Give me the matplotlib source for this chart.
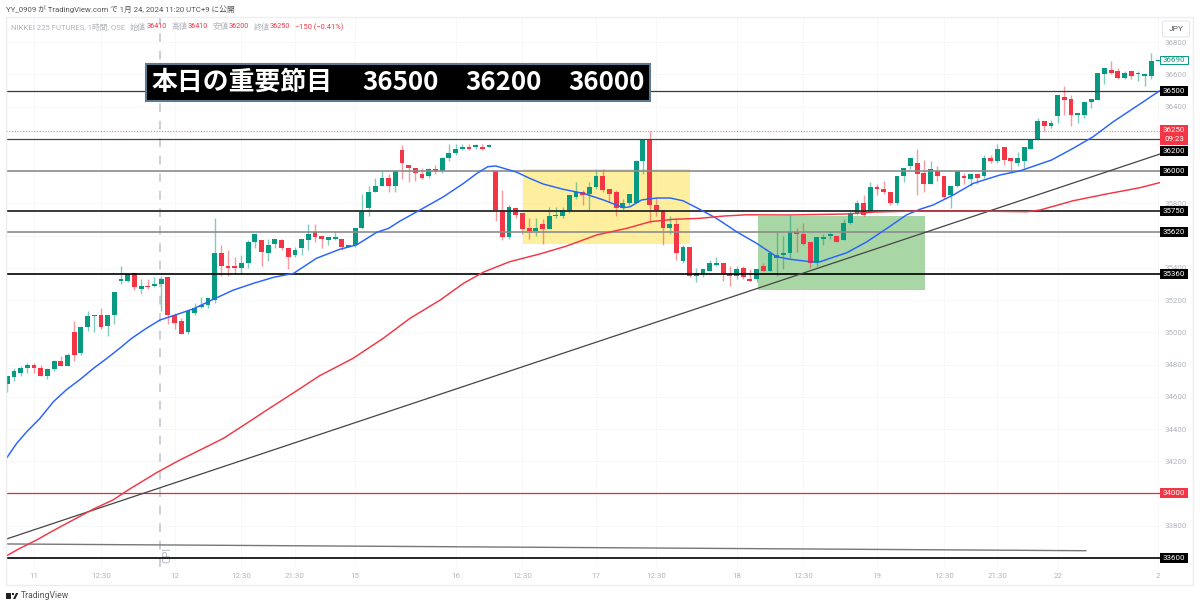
import numpy as np
import matplotlib
matplotlib.use("Agg")
import matplotlib.pyplot as plt
from matplotlib.patches import Rectangle, FancyBboxPatch, Polygon
from matplotlib.transforms import blended_transform_factory

plt.rcParams['font.family'] = ['Noto Sans CJK JP', 'DejaVu Sans']

# candles, one hour each
opens = [34680,34720,34750,34780,34800,34780,34730,34770,34820,34790,
         35000,34870,35030,35100,35110,35040,35110,35320,35320,35370,
         35270,35290,35290,35300,35340,35110,35070,35000,35120,35160,
         35170,35200,35490,35410,35410,35400,35430,35560,35570,35490,
         35550,35570,35520,35480,35520,35570,35620,35600,35570,35580,
         35580,35530,35540,35650,35770,35870,35910,35960,35910,36130,
         36040,36020,35980,35970,36010,36000,36080,36110,36140,36150,
         36150,36150,36150,36000,35760,35590,35770,35740,35650,35630,
         35670,35640,35720,35720,35750,35840,35870,35860,35900,35970,
         35890,35870,35770,35800,35800,36060,36190,35790,35760,35650,
         35670,35440,35530,35350,35360,35380,35420,35430,35360,35350,
         35400,35330,35330,35410,35380,35460,35480,35490,35620,35610,
         35560,35430,35580,35600,35600,35570,35680,35740,35800,35750,
         35900,35890,35870,35800,35970,36030,36050,35990,35920,36000,
         35970,35850,35910,35970,35950,35980,35970,36080,36060,36150,
         36080,36050,36060,36140,36190,36310,36280,36340,36460,36450,
         36350,36350,36430,36440,36600,36630,36620,36580,36620,36600,
         36590,36590,36680]
closes = [34730,34760,34780,34800,34780,34730,34770,34820,34790,34860,
          34860,35030,35100,35110,35030,35110,35250,35330,35360,35280,
          35290,35280,35300,35330,35110,35060,34990,35130,35150,35170,
          35210,35490,35410,35400,35400,35430,35560,35610,35500,35540,
          35580,35520,35470,35510,35580,35610,35590,35580,35590,35590,
          35530,35540,35650,35750,35870,35910,35960,35910,36000,36050,
          36020,35990,35960,36010,36000,36080,36110,36140,36150,36140,
          36160,36140,36160,35760,35590,35780,35730,35640,35630,35650,
          35640,35720,35730,35760,35850,35870,35850,35900,35970,35880,
          35860,35770,35800,35860,36060,36190,35790,35750,35650,35670,
          35490,35530,35350,35370,35390,35430,35430,35360,35350,35390,
          35340,35320,35390,35380,35490,35480,35490,35620,35610,35550,
          35430,35590,35590,35610,35560,35680,35740,35800,35730,35900,
          35890,35870,35800,35970,36020,36080,35980,35920,36010,35970,
          35840,35910,36000,35960,35980,35960,36080,36060,36140,36070,
          36060,36080,36150,36190,36310,36280,36300,36470,36440,36350,
          36360,36430,36450,36610,36640,36610,36580,36610,36590,36610,
          36600,36680,36690]
highs = [34730,34780,34790,34810,34810,34800,34780,34830,34850,34870,
         35070,35040,35130,35110,35150,35110,35250,35410,35370,35370,
         35330,35330,35340,35350,35340,35120,35090,35130,35180,35220,
         35210,35710,35540,35510,35470,35480,35570,35610,35570,35580,
         35580,35580,35520,35530,35580,35670,35670,35600,35590,35630,
         35580,35540,35650,35860,35910,35960,36000,35980,36000,36160,
         36040,36020,36020,36020,36040,36090,36170,36170,36170,36170,
         36170,36170,36170,36000,35880,35790,35770,35740,35710,35710,
         35700,35780,35780,35780,35850,35930,35880,35930,36010,36010,
         35890,35880,35830,35860,36070,36200,36250,35840,35760,35720,
         35700,35540,35530,35400,35390,35450,35470,35430,35410,35410,
         35410,35390,35390,35430,35490,35620,35600,35730,35650,35680,
         35560,35590,35610,35630,35600,35700,35750,35820,35850,35930,
         35920,35940,35870,35970,36020,36080,36140,36070,36060,36030,
         35970,35910,36000,35990,35990,35980,36100,36100,36170,36150,
         36080,36120,36150,36200,36330,36310,36320,36470,36530,36470,
         36360,36430,36450,36610,36640,36680,36640,36620,36620,36620,
         36610,36730,36690]
lows = [34630,34700,34730,34750,34750,34730,34710,34760,34790,34790,
        34820,34860,35010,35000,35020,34980,35050,35300,35310,35260,
        35240,35270,35280,35130,35050,35020,34990,34990,35110,35150,
        35150,35180,35350,35350,35360,35360,35400,35520,35410,35440,
        35520,35510,35390,35470,35480,35510,35560,35520,35540,35570,
        35510,35530,35530,35640,35720,35870,35910,35870,35870,35950,
        35930,35940,35950,35960,35980,35990,36060,36100,36130,36130,
        36140,36130,36150,35690,35570,35580,35710,35610,35580,35600,
        35550,35640,35710,35710,35740,35830,35790,35760,35890,35870,
        35810,35720,35760,35790,35800,35980,35680,35720,35540,35610,
        35450,35430,35340,35310,35340,35380,35410,35320,35290,35330,
        35330,35320,35310,35380,35380,35350,35390,35460,35500,35540,
        35400,35410,35540,35580,35560,35570,35670,35730,35720,35740,
        35850,35860,35790,35790,35930,36010,35850,35870,35920,35940,
        35830,35770,35900,35920,35910,35920,35960,36050,36050,36040,
        35990,36030,36020,36140,36190,36250,36270,36300,36350,36280,
        36300,36330,36390,36440,36540,36600,36570,36570,36570,36560,
        36530,36570,36680]

# moving averages, read at a subset of candle positions
blue_x = [-0.2,1.4,2.9,4.9,6.9,8.9,10.9,12.9,14.9,16.8,18.6,20.8,22.8,24.8,27.8,30.8,33.8,36.8,39.8,42.8,
          46.2,49.7,52.2,55.2,57,58.7,61.7,65.2,68.2,70.2,71.8,73,76.1,78.1,80.1,83.1,86.1,89.1,92.1,93.1,
          94.8,97.1,99.1,101,103.5,106,109,112,115,117,120,121.5,125.5,128.5,131.5,134.4,136.4,138.4,141.4,144.4,
          148.4,151.4,156.1,159.3,162.3,165.3,169.8,172.2]
blue_y = [34214,34311,34383,34467,34570,34646,34708,34777,34839,34901,34963,35025,35076,35103,35145,35205,35262,35304,35341,35366,
          35459,35515,35542,35620,35645,35690,35759,35841,35924,35986,36027,36032,35994,35955,35920,35887,35862,35821,35773,35779,
          35821,35833,35833,35816,35763,35707,35624,35552,35469,35453,35438,35438,35494,35562,35645,35728,35763,35790,35852,35924,
          35976,36002,36069,36141,36213,36306,36430,36497]
red_x = [-0.2,1.9,4.4,6.4,8.9,12.9,15.8,18.3,22.3,25.8,29.8,32.3,35.8,38.8,42.8,46.7,51.7,56.2,60.2,64.7,
         68.2,71.2,75.1,79.6,83.6,88.1,92.6,96.1,99.6,103.5,107,110.5,117,125.5,129.5,135.4,145.4,152.4,154.4,159.3,
         164.3,169.3,172.2]
red_y = [33612,33660,33712,33759,33815,33904,33960,34028,34129,34208,34290,34342,34436,34518,34625,34731,34839,34963,35087,35200,
         35304,35374,35438,35486,35535,35604,35645,35686,35701,35707,35721,35729,35728,35734,35746,35752,35752,35748,35759,35816,
         35858,35897,35928]

# horizontal levels: price, colour, width
levels = [36500, 36200, 36000, 35750, 35620, 35360, 34000, 33600]
level_colors = ['#3a3a3a', '#444444', '#8c8c8c', '#2a2a2a', '#8c8c8c', '#000000', '#e8273c', '#000000']
level_widths = [0.9, 0.9, 1.2, 1.3, 1.2, 1.2, 0.9, 1.2]

# ticks 34000, 35600, 36000 and 36200 sit behind the level boxes, so only the grid shows
yticks = [33800,34000,34200,34400,34600,34800,35000,35200,35400,35600,35800,36000,36200,36400,36600,36800]
hidden_yticks = [34000, 35600, 36000, 36200]
xtick_pos = [4,14,25,35,43,52,67,77,88,97,109,119,130,140,148,157,172]
xtick_labels = ['11','12:30','12','12:30','21:30','15','16','12:30','17','12:30','18','12:30','19','12:30','21:30','22','2']

GREEN = '#089981'
RED = '#f23645'
GRAY = '#b2b5be'
W, H = 1200, 608
LATIN_CJK = ['Roboto', 'Noto Sans CJK JP']
AXIS_SIZE = 5.7

fig = plt.figure(figsize=(12, 6.08), dpi=100, facecolor='white')
# pane in pixels: x 5.7-1160, y 17-567
ax = fig.add_axes([5.7/W, 1-567/H, (1160-5.7)/W, (567-17)/H])
ax.set_xlim(-0.24, 172.3)
ax.set_ylim(33544, 36956)
for s in ax.spines.values():
    s.set_visible(False)
ax.yaxis.tick_right()
ax.set_yticks(yticks)
ax.set_yticklabels(['' if v in hidden_yticks else str(v) for v in yticks], fontsize=AXIS_SIZE, color=GRAY, family='Roboto')
ax.set_xticks(xtick_pos)
ax.set_xticklabels(xtick_labels, fontsize=AXIS_SIZE, color=GRAY, family='Roboto')
ax.tick_params(axis='both', length=0)
ax.tick_params(axis='y', pad=3)
ax.tick_params(axis='x', pad=4)
ax.grid(True, color='#f6f7f9', lw=0.7)
ax.set_axisbelow(True)

# frame round the whole chart
fig.add_artist(Rectangle((5.7/W, 1-585/H), (1193-5.7)/W, (585-17)/H, fc='none', ec='#eceef2', lw=1,
                         transform=fig.transFigure))

# zones
ax.add_patch(Rectangle((77.1, 35550), 25, 460, fc='#fde978', alpha=0.72, ec='none', zorder=1))
ax.add_patch(Rectangle((112.2, 35262), 24.9, 460, fc='#a8d6a4', ec='none', zorder=1))

# CPI event line
ax.axvline(22.85, color='#cdcfd6', lw=1.4, ls=(0, (4.5, 4.5)), zorder=1.5)
ax.text(24.0, 33620, 'CPI', rotation=90, fontsize=7.5, color=GRAY, family='Roboto', ha='center', va='center')

# candles
x = np.arange(len(opens))
o, h, l, c = map(np.array, (opens, highs, lows, closes))
up = c >= o
cols = np.where(up, GREEN, RED)
ax.vlines(x, l, h, colors=cols, lw=1.0, alpha=0.5, zorder=2)
ax.bar(x, np.abs(c-o), bottom=np.minimum(o, c), width=0.72, color=cols, lw=0, zorder=3)

# levels and trend lines
for p, col, lw in zip(levels, level_colors, level_widths):
    ax.axhline(p, color=col, lw=lw, zorder=4)
ax.axhline(36250, color=RED, lw=0.8, ls=(0, (1, 1.5)), alpha=0.7, zorder=1.5)
ax.plot([-0.24, 172.3], [33716, 36106], color='#444444', lw=0.9, zorder=4)
ax.plot([-0.24, 161.2], [33687, 33645], color='#777777', lw=1.0, zorder=4)

# moving averages
ax.plot(blue_x, blue_y, color='#2962ff', lw=1.05, zorder=5, solid_joinstyle='round')
ax.plot(red_x, red_y, color='#f23645', lw=1.05, zorder=5, solid_joinstyle='round')

# price scale boxes
trans = blended_transform_factory(ax.transAxes, ax.transData)
box_w = 28/(1160-5.7)
def price_box(p, fc, txt='#ffffff', ec='none', height=62, label=None):
    ax.add_patch(Rectangle((1.0, p-height/2), box_w, height, transform=trans, fc=fc, ec=ec, lw=0.7,
                           clip_on=False, zorder=6))
    ax.text(1.0+box_w/2, p, label or str(p), transform=trans, color=txt, fontsize=AXIS_SIZE, family='Roboto',
            ha='center', va='center', clip_on=False, zorder=7)

for p in [36500, 36000, 35750, 35620, 35360, 33600]:
    price_box(p, '#000000')
# 36200 label is pushed below the live price box
price_box(36125, '#000000', label='36200')
price_box(34000, RED)
price_box(36690, '#ffffff', txt=GREEN, ec=GREEN, height=54)
ax.add_patch(Rectangle((1.0, 36162), box_w, 124, transform=trans, fc=RED, ec='none', clip_on=False, zorder=6))
ax.text(1.0+box_w/2, 36255, '36250', transform=trans, color='white', fontsize=AXIS_SIZE, family='Roboto',
        ha='center', va='center', zorder=7)
ax.text(1.0+box_w/2, 36197, '09:23', transform=trans, color='white', fontsize=AXIS_SIZE, family='Roboto',
        ha='center', va='center', zorder=7)

def px_text(px, py, s, **kw):
    kw.setdefault('va', 'center')
    fig.text(px/W, 1-py/H, s, **kw)

# title box
fig.add_artist(Rectangle((146/W, 1-101/H), 504/W, 37/H, fc='#000000', ec='#5f7a90', lw=1.5, zorder=8,
                         transform=fig.transFigure))
px_text(151.5, 82.5, '本日の重要節目', color='white', fontsize=18.6, fontweight='bold', zorder=9)
for px, s in zip([362.5, 465.5, 568], ['36500', '36200', '36000']):
    px_text(px, 83, s, color='white', fontsize=18.6, fontweight='bold', zorder=9)

# header texts
px_text(5.5, 9.5, 'YY_0909 が TradingView.com で 1月 24, 2024 11:20 UTC+9 に公開', color='#555555', fontsize=5.6, family=LATIN_CJK)
px_text(10.7, 27, 'NIKKEI 225 FUTURES, 1時間, OSE', color=GRAY, fontsize=5.6, family=LATIN_CJK)
for px, s in zip([130, 171.7, 212.7, 253.7], ['始値', '高値', '安値', '終値']):
    px_text(px, 27, s, color=GRAY, fontsize=5.8)
for px, s in zip([146.7, 187.3, 228.3, 269.3], ['36410', '36410', '36200', '36250']):
    px_text(px, 27, s, color=RED, fontsize=5.2, family='Roboto')
px_text(295, 27, '−150 (−0.41%)', color=RED, fontsize=5.4, family='Roboto')

# JPY button
fig.add_artist(FancyBboxPatch((1162.5/W, 1-37/H), 27/W, 16/H, boxstyle='round,pad=0,rounding_size=0.003',
                              fc='white', ec='#e4e6eb', lw=0.8, transform=fig.transFigure, mutation_aspect=H/W))
px_text(1176, 29, 'JPY', color='#555555', fontsize=6, ha='center', family='Roboto')

# footer logo
fig.add_artist(Rectangle((5.7/W, 1-599/H), 5/W, 6/H, fc='#222222', ec='none', transform=fig.transFigure))
fig.add_artist(Polygon([(13/W, 1-599/H), (16/W, 1-593/H), (18.3/W, 1-593/H), (15.3/W, 1-599/H)], fc='#222222',
                       ec='none', transform=fig.transFigure))
fig.add_artist(Rectangle((11.6/W, 1-595/H), 2/W, 2/H, fc='#222222', ec='none', transform=fig.transFigure))
px_text(21, 596, 'TradingView', color='#555555', fontsize=6.2, family='Roboto')

fig.savefig('out.png', dpi=100, facecolor='white')
